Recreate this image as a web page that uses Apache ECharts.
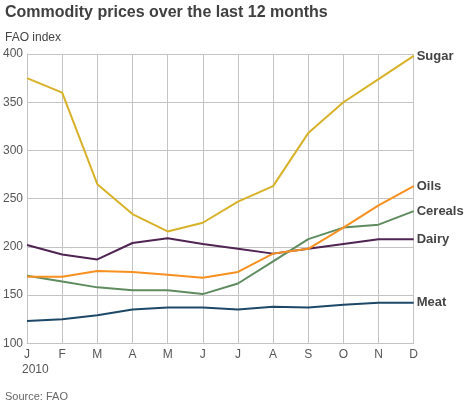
<!DOCTYPE html>
<html>
<head>
<meta charset="utf-8">
<script src="https://cdn.jsdelivr.net/npm/echarts@6/dist/echarts.min.js"></script>
<style>
  html, body { margin: 0; padding: 0; background: #fff; }
  #main { width: 464px; height: 402px; }
</style>
</head>
<body>
<div id="main"></div>
<script>
// months, Jan-Dec 2010
var months = ['J', 'F', 'M', 'A', 'M', 'J', 'J', 'A', 'S', 'O', 'N', 'D'];

// FAO index values
var sugar   = [375, 360, 265, 234, 216, 225, 247, 263, 318, 350, 374, 398];
var oils    = [169, 169, 175, 174, 171, 168, 174, 193, 198, 220, 243, 263];
var cereals = [170, 164, 158, 155, 155, 151, 162, 185, 208, 220, 223, 237];
var dairy   = [202, 192, 187, 204, 209, 203, 198, 193, 198, 203, 208, 208];
var meat    = [123, 125, 129, 135, 137, 137, 135, 138, 137, 140, 142, 142];

var yTicks = { min: 100, max: 400, step: 50 };

var font = 'Liberation Sans, Arial, Helvetica, sans-serif';
var gridColor = '#c4c4c4';

function line(name, data, color) {
  return {
    name: name,
    type: 'line',
    data: data,
    symbol: 'none',
    lineStyle: { color: color, width: 2 },
    itemStyle: { color: color },
    endLabel: {
      show: true,
      formatter: '{a}',
      color: '#444',
      fontFamily: font,
      fontWeight: 'bold',
      fontSize: 13,
      distance: 3
    }
  };
}

var chart = echarts.init(document.getElementById('main'));
chart.setOption({
  animation: false,
  textStyle: { fontFamily: font },
  title: [
    {
      text: 'Commodity prices over the last 12 months',
      left: 0, top: 0,
      textStyle: { fontSize: 16, fontWeight: 'bold', color: '#404040', fontFamily: font }
    },
    {
      text: 'FAO index',
      left: 0, top: 27,
      textStyle: { fontSize: 12, fontWeight: 'normal', color: '#444', fontFamily: font }
    },
    {
      text: 'Source: FAO',
      left: 0, top: 386,
      textStyle: { fontSize: 11, fontWeight: 'normal', color: '#666', fontFamily: font }
    }
  ],
  graphic: [
    {
      type: 'text', left: 22, top: 364,
      style: { text: '2010', font: '12px ' + font, fill: '#555' }
    }
  ],
  grid: { left: 25.7, right: 50.3, top: 54, bottom: 58.7 },
  xAxis: {
    type: 'category',
    data: months,
    boundaryGap: false,
    axisLine: { lineStyle: { color: gridColor, width: 1 } },
    axisTick: { show: false },
    axisLabel: { color: '#555', fontSize: 12, margin: 5, interval: 0, fontFamily: font },
    splitLine: { show: true, lineStyle: { color: gridColor, width: 1 } }
  },
  yAxis: {
    type: 'value',
    min: yTicks.min,
    max: yTicks.max,
    interval: yTicks.step,
    axisLine: { show: true, lineStyle: { color: gridColor, width: 1 } },
    axisTick: { show: false },
    axisLabel: { color: '#555', fontSize: 12, margin: 4, fontFamily: font },
    splitLine: { show: true, lineStyle: { color: gridColor, width: 1 } }
  },
  series: [
    line('Meat', meat, '#1d4868'),
    line('Dairy', dairy, '#4f2352'),
    line('Cereals', cereals, '#5f8c5f'),
    line('Oils', oils, '#f7901f'),
    line('Sugar', sugar, '#d7b229')
  ]
});
</script>
</body>
</html>
